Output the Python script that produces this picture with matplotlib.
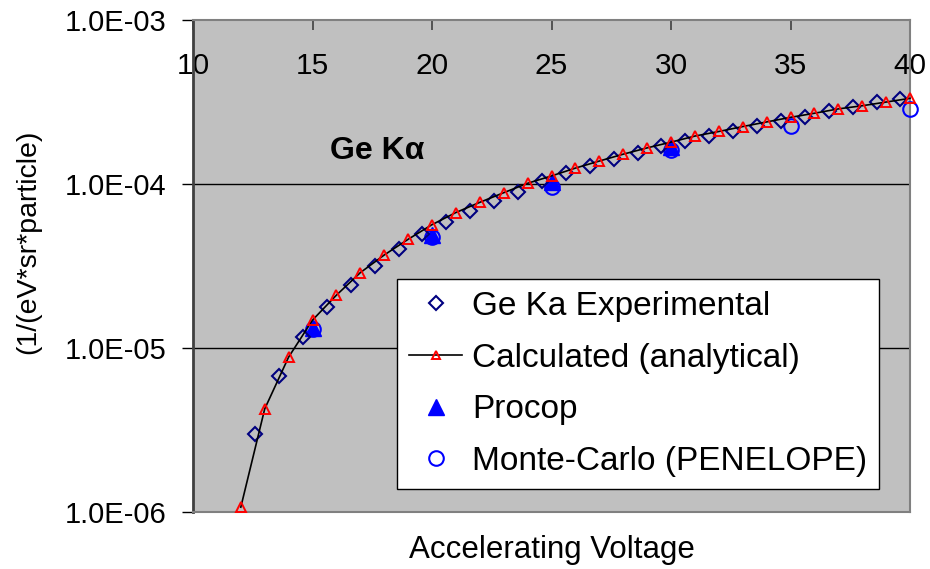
import matplotlib
matplotlib.use('Agg')
import matplotlib.pyplot as plt
from matplotlib.lines import Line2D

plt.rcParams['font.family'] = ['Liberation Sans', 'DejaVu Sans']

# Ge Ka Experimental
exp_kv = [12.6, 13.6, 14.6, 15.6, 16.6, 17.6, 18.6, 19.6, 20.6, 21.6, 22.6, 23.6, 24.6, 25.6,
          26.6, 27.6, 28.6, 29.6, 30.6, 31.6, 32.6, 33.6, 34.6, 35.6, 36.6, 37.6, 38.6, 39.6]
exp_val = [2.99e-6, 6.74e-6, 1.17e-5, 1.77e-5, 2.42e-5, 3.16e-5, 4.0e-5, 4.93e-5, 5.88e-5, 6.84e-5,
           7.9e-5, 8.97e-5, 1.05e-4, 1.17e-4, 1.29e-4, 1.42e-4, 1.55e-4, 1.71e-4, 1.84e-4, 1.96e-4,
           2.10e-4, 2.26e-4, 2.42e-4, 2.57e-4, 2.79e-4, 2.96e-4, 3.16e-4, 3.31e-4]

# Calculated (analytical)
calc_kv = list(range(12, 41))
calc_val = [1.07e-6, 4.25e-6, 8.8e-6, 1.48e-5, 2.1e-5, 2.88e-5, 3.69e-5, 4.6e-5, 5.65e-5, 6.7e-5,
            7.73e-5, 8.85e-5, 1.01e-4, 1.12e-4, 1.25e-4, 1.38e-4, 1.52e-4, 1.66e-4, 1.80e-4, 1.96e-4,
            2.09e-4, 2.24e-4, 2.39e-4, 2.55e-4, 2.70e-4, 2.87e-4, 3.0e-4, 3.16e-4, 3.33e-4]

# Procop
procop_kv = [15, 20, 25, 30]
procop_val = [1.32e-5, 4.9e-5, 1.03e-4, 1.69e-4]

# Monte-Carlo (PENELOPE)
mc_kv = [15, 20, 25, 30, 35, 40]
mc_val = [1.31e-5, 4.78e-5, 9.6e-5, 1.61e-4, 2.26e-4, 2.85e-4]

x_ticks = [10, 15, 20, 25, 30, 35, 40]
y_ticks = [1e-6, 1e-5, 1e-4, 1e-3]
y_tick_labels = ['1.0E-06', '1.0E-05', '1.0E-04', '1.0E-03']

fig = plt.figure(figsize=(9.3, 5.69), dpi=100)
ax = fig.add_axes([193 / 930, 1 - 512 / 569, 717 / 930, 492 / 569])
ax.set_facecolor('#C0C0C0')

ax.set_yscale('log')
ax.set_xlim(10, 40)
ax.set_ylim(1e-6, 1e-3)

# horizontal gridlines at decades
for yv in y_ticks[1:-1]:
    ax.axhline(yv, color='black', lw=1.0, zorder=1)

ax.plot(mc_kv, mc_val, linestyle='none', marker='o', markersize=10.5, markerfacecolor='none',
        markeredgecolor='#0000FF', markeredgewidth=1.5, zorder=3, clip_on=False)
ax.plot(procop_kv, procop_val, linestyle='none', marker='^', markersize=11, color='#0000FF', zorder=4)
ax.plot(exp_kv, exp_val, linestyle='none', marker='D', markersize=7, markerfacecolor='none',
        markeredgecolor='#000080', markeredgewidth=1.5, zorder=5)
ax.plot(calc_kv, calc_val, color='black', lw=1.2, marker='^', markersize=7.5, markerfacecolor='none',
        markeredgecolor='#FF0000', markeredgewidth=1.4, zorder=6, clip_on=False)

ax.text(15.75, 1.58e-4, 'Ge K\u03b1', fontsize=23, fontweight='bold', ha='left', va='center')

# x axis sits at the top, labels drawn inside the plot
ax.set_xticks(x_ticks)
ax.set_xticklabels([str(v) for v in x_ticks])
ax.tick_params(axis='x', which='both', top=True, bottom=False, labeltop=True, labelbottom=False,
               direction='in', length=7, width=1.2, color='#404040', pad=-43, labelsize=21.5)
ax.set_yticks(y_ticks)
ax.set_yticklabels(y_tick_labels)
ax.yaxis.set_minor_locator(matplotlib.ticker.NullLocator())
ax.tick_params(axis='y', which='major', direction='out', length=8, width=1.0, pad=11, labelsize=21)

for side in ['top', 'right', 'bottom']:
    ax.spines[side].set_color('#808080')
    ax.spines[side].set_linewidth(1.5)
ax.spines['left'].set_color('#404040')
ax.spines['left'].set_linewidth(2)

ax.set_xlabel('Accelerating Voltage', fontsize=22.5, va='center')
ax.xaxis.set_label_coords(0.5, -0.077)
ax.set_ylabel('(1/(eV*sr*particle)', fontsize=20.5, va='center')
ax.yaxis.set_label_coords(-0.23, 0.549)

handles = [
    Line2D([], [], linestyle='none', marker='D', markersize=7, markerfacecolor='none',
           markeredgecolor='#000080', markeredgewidth=1.5),
    Line2D([], [], color='black', lw=1.2, marker='^', markersize=6, markerfacecolor='none',
           markeredgecolor='#FF0000', markeredgewidth=1.4),
    Line2D([], [], linestyle='none', marker='^', markersize=11, color='#0000FF'),
    Line2D([], [], linestyle='none', marker='o', markersize=10.5, markerfacecolor='none',
           markeredgecolor='#0000FF', markeredgewidth=1.5),
]
labels = ['Ge Ka Experimental', 'Calculated (analytical)', 'Procop', 'Monte-Carlo (PENELOPE)']
leg = ax.legend(handles, labels, loc='upper left', bbox_to_anchor=(397 / 930, 1 - 279 / 569),
                bbox_transform=fig.transFigure, fontsize=24, frameon=True, fancybox=False,
                framealpha=1, edgecolor='black', borderpad=0.36, labelspacing=0.62,
                handlelength=1.6, handletextpad=0.3, borderaxespad=0)
leg.get_frame().set_linewidth(1.0)
leg.set_zorder(10)

plt.savefig('out.png', dpi=100)
